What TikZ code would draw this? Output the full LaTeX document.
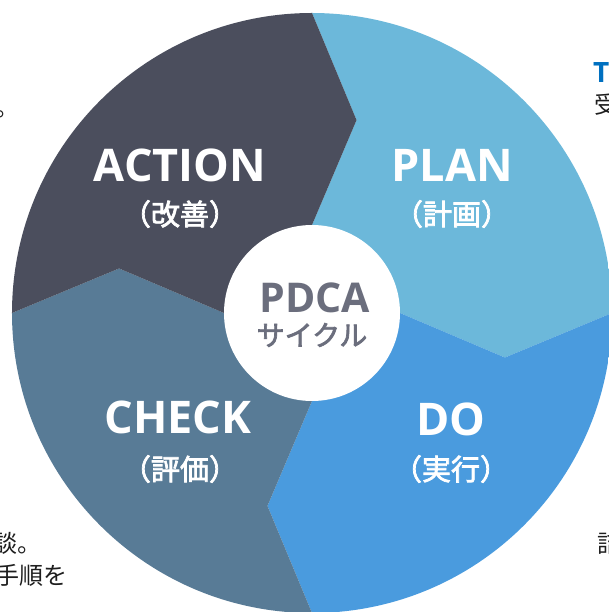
\documentclass[tikz,border=0pt]{standalone}
\usepackage{fontspec}
\setmainfont{Open Sans}
\newfontfamily\cjk{Noto Sans CJK JP}
\newfontfamily\cjkbold{Noto Sans CJK JP}[FakeBold=2.5]

\definecolor{actiondark}{RGB}{75,78,93}
\definecolor{planblue}{RGB}{108,184,218}
\definecolor{doblue}{RGB}{74,155,222}
\definecolor{checkslate}{RGB}{88,123,150}
\definecolor{pdcagray}{RGB}{107,110,125}
\definecolor{pagetext}{RGB}{30,30,30}
\definecolor{pageblue}{RGB}{0,112,192}

\newcommand\pdcaouter{300}
\newcommand\pdcainner{88}
\newcommand\pdcamid{198}
\newcommand\pdcatwist{13}
\newcommand\pdcatitlestyle{\fontsize{45}{45}\selectfont\bfseries}
\newcommand\pdcasubstyle{\fontsize{29}{29}\selectfont\cjkbold}
\newcommand\pagetextstyle{\fontsize{24}{32}\selectfont\cjk}

\begin{document}
\begin{tikzpicture}[x=1pt, y=1pt]
  \useasboundingbox (-312, -299) rectangle (296, 313);
  % the four chevron sectors
  \begin{scope}
    \clip (0, 0) circle (\pdcaouter);
    \foreach \a/\c in {90/planblue, 0/doblue, -90/checkslate, 180/actiondark}
      \fill[\c] (\a:\pdcaouter) -- (\a-\pdcatwist:\pdcamid) -- (\a:\pdcainner) -- (0, 0)
        -- (\a-90:\pdcainner) -- (\a-90-\pdcatwist:\pdcamid) -- (\a-90:\pdcaouter)
        -- (\a-90:450) -- (\a-45:450) -- (\a:450) -- cycle;
  \end{scope}
  \fill[white] (0, 0) circle (\pdcainner);

  \node[anchor=base, white] (action) at (-132, 131) {\pdcatitlestyle ACTION};
  \node[white] (actionsub) at (-132, 99) {\pdcasubstyle （改善）};
  \node[anchor=base, white] (plan) at (140, 131) {\pdcatitlestyle PLAN};
  \node[white] (plansub) at (140, 99) {\pdcasubstyle （計画）};
  \node[anchor=base, white] (check) at (-134, -121) {\pdcatitlestyle CHECK};
  \node[white] (checksub) at (-132, -156) {\pdcasubstyle （評価）};
  \node[anchor=base, white] (do) at (139, -122) {\pdcatitlestyle DO};
  \node[white] (dosub) at (139, -156) {\pdcasubstyle （実行）};

  \node[anchor=base, pdcagray] (pdca) at (3, 0) {\fontsize{41}{41}\selectfont\bfseries PDCA};
  \node[pdcagray] (cycle) at (0, -22) {\fontsize{28}{28}\selectfont\cjkbold サイクル};

  % cut-off text of the page around the picture
  \node[anchor=base west, inner sep=0, pagetext] (stopleft) at (-317, 196) {\pagetextstyle 。};
  \node[anchor=base west, inner sep=0, pageblue] (tright) at (281, 230) {\fontsize{28}{28}\selectfont\bfseries T};
  \node[anchor=base west, inner sep=0, pagetext] (juright) at (282, 199) {\pagetextstyle 受};
  \node[anchor=base west, inner sep=0, pagetext] (danleft) at (-319, -239) {\pagetextstyle 談。};
  \node[anchor=base west, inner sep=0, pagetext] (tejunleft) at (-317, -271) {\pagetextstyle 手順を};
  \node[anchor=base west, inner sep=0, pagetext] (kitsuright) at (285, -239) {\pagetextstyle 詰};
\end{tikzpicture}
\end{document}
